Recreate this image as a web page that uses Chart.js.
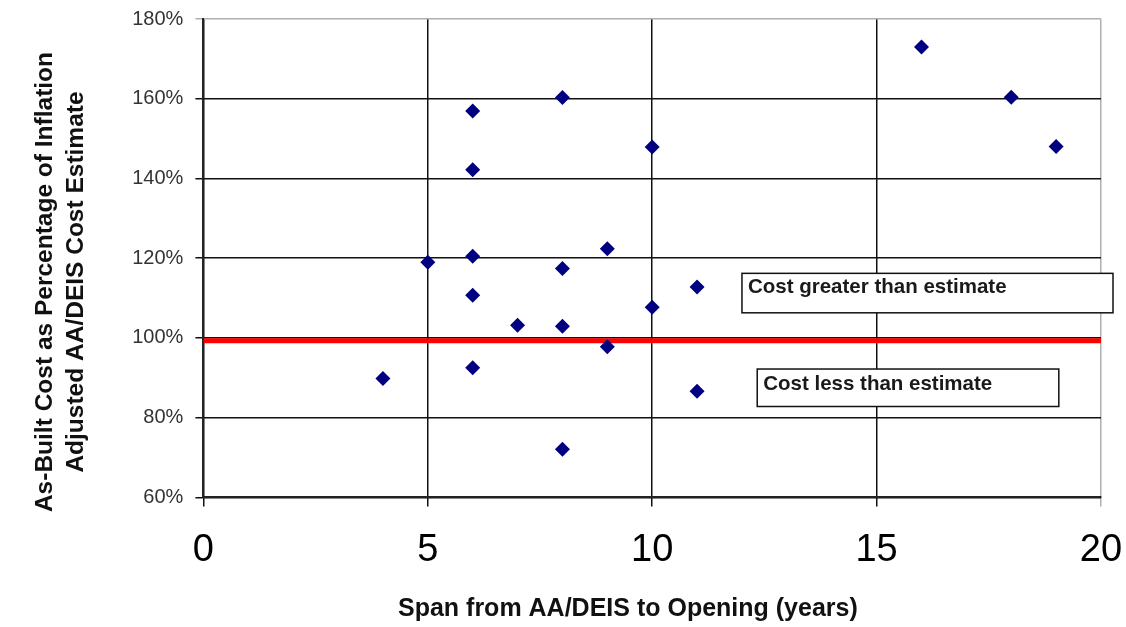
<!DOCTYPE html>
<html>
<head>
<meta charset="utf-8">
<script src="https://cdn.jsdelivr.net/npm/chart.js@4"></script>
<style>
  html, body { margin: 0; padding: 0; background: #fff; }
</style>
</head>
<body>
<canvas id="spanChart" width="1126" height="627"></canvas>
<script>
// ---------------- DATA ----------------

const spanYears = [4, 5, 6, 6, 6, 6, 6, 7, 8, 8, 8, 8, 9, 9, 10, 10, 11, 11, 16, 18, 19];

const costPct = [89.8, 119, 156.9, 142.2, 120.5, 110.7, 92.5, 103.2, 160.3, 117.4, 102.9, 72.1,
                 122.4, 97.8, 147.9, 107.7, 112.8, 86.6, 173, 160.4, 148];

const breakEvenX = [0, 20];
const breakEvenY = [99.3, 99.3];

const notes = ["Cost greater than estimate", "Cost less than estimate"];

// trailing spaces nudge the titles off-centre, like in the original
const pad = "       ";

// ---------------- NOTE BOXES ----------------

const noteBoxes = {
    id: "noteBoxes",
    afterDatasetsDraw(chart) {
        const ctx = chart.ctx;
        const xs = chart.scales.x;
        const ys = chart.scales.y;
        const boxes = [
            { text: notes[0], x0: xs.getPixelForValue(12.0), x1: chart.chartArea.right + 12, y0: ys.getPixelForValue(116.2), y1: ys.getPixelForValue(106.3), dy: 14 },
            { text: notes[1], x0: xs.getPixelForValue(12.34), x1: xs.getPixelForValue(19.06), y0: ys.getPixelForValue(92.2), y1: ys.getPixelForValue(82.8), dy: 15 }
        ];
        ctx.save();
        boxes.forEach(b => {
            ctx.fillStyle = "#fff";
            ctx.fillRect(b.x0, b.y0, b.x1 - b.x0, b.y1 - b.y0);
            ctx.strokeStyle = "#111";
            ctx.lineWidth = 1.5;
            ctx.strokeRect(b.x0, b.y0, b.x1 - b.x0, b.y1 - b.y0);
            ctx.fillStyle = "#1a1a1a";
            ctx.font = "bold 20.5px 'Liberation Sans', Arial, sans-serif";
            ctx.textBaseline = "middle";
            ctx.fillText(b.text, b.x0 + 6, b.y0 + b.dy);
        });
        ctx.restore();
    }
};

// ---------------- SCATTER CHART ----------------

const spanCtx = document.getElementById("spanChart");

new Chart(spanCtx, {
    type: "scatter",
    data: {
        datasets: [
            {
                label: "Projects",
                data: spanYears.map((x, i) => ({ x: x, y: costPct[i] })),
                pointStyle: "rectRot",
                pointRadius: 7.5,
                pointHoverRadius: 7.5,
                backgroundColor: "#000080",
                borderColor: "#000080",
                borderWidth: 0,
                order: 1
            },
            {
                type: "line",
                label: "Estimate",
                data: breakEvenX.map((x, i) => ({ x: x, y: breakEvenY[i] })),
                borderColor: "#ff0000",
                borderWidth: 5,
                pointRadius: 0,
                order: 2
            }
        ]
    },
    options: {
        responsive: false,
        animation: false,
        maintainAspectRatio: false,
        layout: { padding: { top: 19, right: 25, left: 30, bottom: 3 } },
        plugins: {
            legend: { display: false },
            tooltip: { enabled: false }
        },
        scales: {
            x: {
                type: "linear",
                min: 0,
                max: 20,
                afterFit: s => { s.paddingRight = 0; },
                ticks: {
                    stepSize: 5,
                    color: "#000",
                    padding: 21,
                    font: { size: 38, family: "'Liberation Sans', Arial, sans-serif" }
                },
                grid: {
                    color: c => (c.tick && c.tick.value === 20 ? "#b0b0b0" : "#111"),
                    lineWidth: 1.5,
                    tickLength: 9
                },
                border: { color: "#222", width: 2 },
                title: {
                    display: true,
                    text: "Span from AA/DEIS to Opening (years)" + pad,
                    color: "#111",
                    padding: { top: 0, bottom: 0 },
                    font: { size: 25, weight: "bold", family: "'Liberation Sans', Arial, sans-serif" }
                }
            },
            y: {
                min: 60,
                max: 180,
                afterFit: s => { s.paddingTop = 0; },
                ticks: {
                    stepSize: 20,
                    color: "#333",
                    padding: 12,
                    callback: v => v + "%",
                    font: { size: 20, family: "'Liberation Sans', Arial, sans-serif" }
                },
                grid: {
                    color: c => (c.tick && c.tick.value === 180 ? "#b0b0b0" : "#111"),
                    lineWidth: 1.5,
                    tickLength: 8
                },
                border: { color: "#222", width: 2 },
                title: {
                    display: true,
                    text: ["As-Built Cost as Percentage of Inflation" + pad, "Adjusted AA/DEIS Cost Estimate" + pad],
                    color: "#111",
                    padding: { top: 0, bottom: 29 },
                    font: { size: 24.5, weight: "bold", lineHeight: 1.25, family: "'Liberation Sans', Arial, sans-serif" }
                }
            }
        }
    },
    plugins: [noteBoxes]
});
</script>
</body>
</html>
